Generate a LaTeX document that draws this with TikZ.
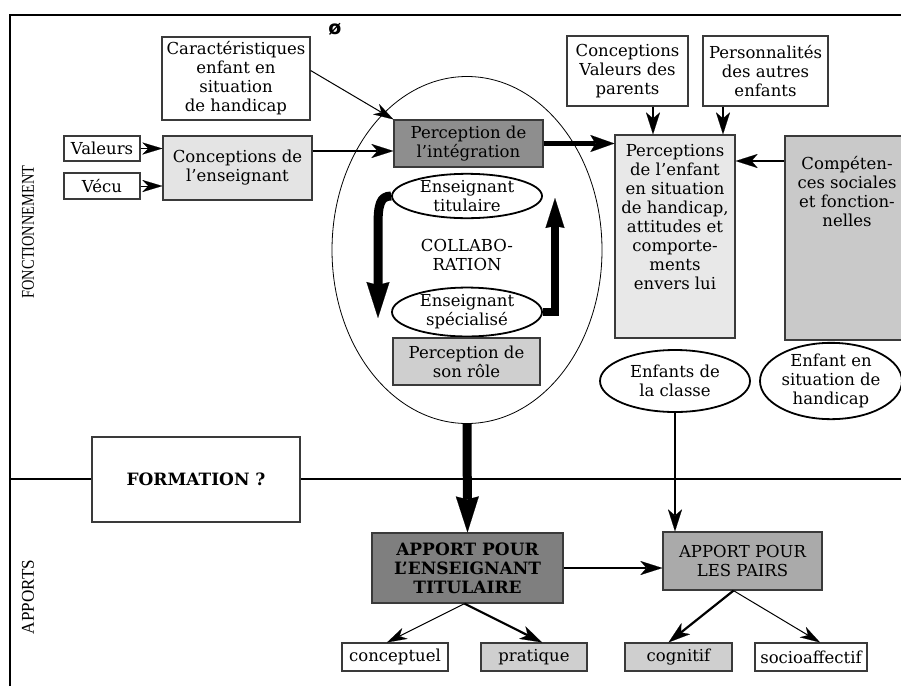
\documentclass[tikz,border=0pt]{standalone}
\usepackage{fontspec}
\setmainfont{DejaVu Serif}
\newfontfamily\labfont{Liberation Serif}
\newfontfamily\symfont{DejaVu Sans}
\usetikzlibrary{shapes.geometric,arrows.meta,calc}
\definecolor{bordc}{HTML}{3A3A3A}
\definecolor{gLight}{HTML}{E4E4E4}
\definecolor{gVery}{HTML}{E8E8E8}
\definecolor{gMid}{HTML}{CFCFCF}
\definecolor{gComp}{HTML}{C9C9C9}
\definecolor{gDark}{HTML}{8E8E8E}
\definecolor{gDarker}{HTML}{7F7F7F}
\definecolor{gPairs}{HTML}{AAAAAA}
\tikzset{
  box/.style={draw=bordc, line width=1.2pt, align=center, inner sep=1pt},
  ell/.style={ellipse, draw=black, line width=1.8pt, align=center, inner sep=0pt},
  thinarr/.style={line width=1pt, -{Stealth[length=20pt,width=12pt,inset=6pt,line width=0.1pt]}},
  medarr/.style={line width=2.2pt, -{Stealth[length=22pt,width=14pt,inset=6pt,line width=0.1pt]}},
  heavyarr/.style={line width=4.5pt, -{Stealth[length=24pt,width=17pt,inset=5pt,line width=0.1pt]}},
  hugearr/.style={line width=9pt, -{Stealth[length=36pt,width=23pt,inset=3pt,line width=0.1pt]}},
  upArr/.style={line width=8pt, -{Stealth[length=30pt,width=19pt,inset=2pt,line width=0.1pt]}},
  sidelab/.style={rotate=90, font=\labfont\fontsize{18}{20}\selectfont},
  boldtxt/.style={font=\bfseries\fontsize{17}{19}\selectfont},
}
\begin{document}
\begin{tikzpicture}[x=1pt,y=-1pt,font=\fontsize{16.5}{19}\selectfont]
\useasboundingbox (0,0) rectangle (901,686);
% frame
\draw[line width=2.6pt] (10,686) -- (10,15) -- (901,15);
\draw[line width=1.6pt] (10,479) -- (901,479);
\node[sidelab] (fonc) at (28,232) {\scalebox{0.8}[1]{FONCTIONNEMENT}};
\node[sidelab] (apps) at (28,597) {\scalebox{0.95}[1]{APPORTS}};
\node[font=\symfont\bfseries\fontsize{19}{20}\selectfont] (oslash) at (335,29) {ø};

% left part
\node[box, fill=white, minimum width=148, minimum height=83] (car) at (236,78.5) {Caractéristiques\\enfant en\\situation\\de handicap};
\node[box, fill=white, minimum width=76, minimum height=25] (val) at (102,148.5) {Valeurs};
\node[box, fill=white, minimum width=76, minimum height=26] (vec) at (102,186) {Vécu};
\node[box, fill=gLight, minimum width=149, minimum height=64] (ce) at (237.5,168) {Conceptions de\\l’enseignant};

% central ellipse
\node[ellipse, draw=black, line width=0.8pt, minimum width=270, minimum height=347, inner sep=0pt] (col) at (467,250) {};
\node[box, fill=gDark, minimum width=149, minimum height=47] (pi) at (468.5,143.5) {Perception de\\l’intégration};
\node[ell, fill=white, minimum width=150, minimum height=42] (tit) at (467,196) {Enseignant\\titulaire};
\node[align=center] (collab) at (467,255) {COLLABO-\\RATION};
\node[ell, fill=white, minimum width=150, minimum height=43] (spe) at (467,312) {Enseignant\\spécialisé};
\node[box, fill=gMid, minimum width=147, minimum height=47] (role) at (466.5,361.5) {Perception de\\son rôle};

% right part
\node[box, fill=white, minimum width=121, minimum height=70] (par) at (627.5,71) {Conceptions\\Valeurs des\\parents};
\node[box, fill=white, minimum width=125, minimum height=70] (pers) at (765.5,71) {Personnalités\\des autres\\enfants};
\node[box, fill=gVery, minimum width=120, minimum height=203] (pe) at (675,236.5) {};
\node[align=center, anchor=north] (petxt) at ([yshift=-6pt]pe.north) {Perceptions\\de l’enfant\\en situation\\de handicap,\\attitudes et\\comporte-\\ments\\envers lui};
\node[box, fill=gComp, minimum width=124, minimum height=204] (cs) at (847,238) {};
\node[align=center, anchor=north] (cstxt) at ([yshift=-17pt]cs.north) {Compéten-\\ces sociales\\et fonction-\\nelles};
\node[ell, fill=white, minimum width=150, minimum height=62] (ec) at (675,381) {Enfants de\\la classe};
\node[ell, fill=white, minimum width=142, minimum height=62] (es) at (831,381) {Enfant en\\situation de\\handicap};

% bottom part
\node[box, boldtxt, fill=white, minimum width=208, minimum height=85] (form) at (196,479.5) {FORMATION ?};
\node[box, boldtxt, fill=gDarker, minimum width=191, minimum height=70] (at) at (467.5,568) {APPORT POUR\\L’ENSEIGNANT\\TITULAIRE};
\node[box, fill=gPairs, minimum width=159, minimum height=58] (ap) at (742.5,561) {APPORT POUR\\LES PAIRS};
\node[box, fill=white, minimum width=106, minimum height=28] (conc) at (395,657) {conceptuel};
\node[box, fill=gMid, minimum width=106, minimum height=28] (prat) at (534,657) {pratique};
\node[box, fill=gMid, minimum width=107, minimum height=28] (cog) at (678.5,657) {cognitif};
\node[box, fill=white, minimum width=112, minimum height=28] (soc) at (811,657) {socioaffectif};

% connectors
\draw[thinarr] (val.east) -- (val.east -| ce.west);
\draw[thinarr] (vec.east) -- (vec.east -| ce.west);
\draw[thinarr] ($(car.east)+(0,-8)$) -- (pi.north west);
\coordinate (piin) at ($(pi.west)+(0,7.5)$);
\draw[medarr] (ce.east |- piin) -- (piin);
\draw[heavyarr] (pi.east) -- (pi.east -| pe.west);
\draw[medarr, line width=1.8pt] ([xshift=25.5pt]par.south) -- ([xshift=25.5pt]par.south |- pe.north);
\draw[medarr, line width=1.8pt] ([xshift=-42.5pt]pers.south) -- ([xshift=-42.5pt]pers.south |- pe.north);
\coordinate (lvl) at (0,161);
\draw[medarr] (cs.west |- lvl) -- (pe.east |- lvl);
\coordinate (ltip) at (378,318);
\draw[hugearr] (tit.west) .. controls (380,196) and (378,205) .. (378,226) -- (ltip);
\coordinate (rtip) at (555,198);
\draw[upArr] (spe.east) -- (spe.east -| rtip) -- (rtip);
\draw[hugearr] (col.south) -- (at.north);
\draw[medarr, line width=1.8pt] (ec.south) -- (ec.south |- ap.north);
\draw[medarr] (at.east) -- (at.east -| ap.west);
\draw[thinarr] ([xshift=-3pt]at.south) -- ([xshift=-8pt]conc.north);
\draw[medarr] ([xshift=-3pt]at.south) -- ([xshift=8pt]prat.north);
\draw[medarr] ([xshift=-9pt]ap.south) -- ([xshift=-10pt]cog.north);
\draw[thinarr] ([xshift=-9pt]ap.south) -- ([xshift=9pt]soc.north);
\end{tikzpicture}
\end{document}
